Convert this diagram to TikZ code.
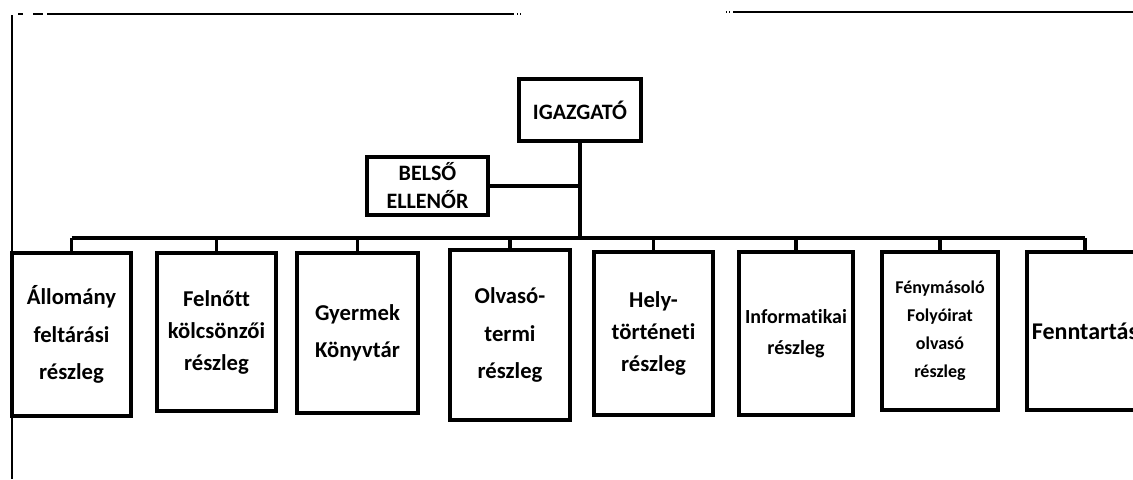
\documentclass[tikz,border=0pt]{standalone}
\usepackage{fontspec}
\setmainfont{Carlito}[Ligatures=NoCommon]

\begin{document}
\begin{tikzpicture}[x=0.75pt,y=-0.75pt]
\tikzstyle{every node}+=[inner sep=0pt]
\tikzstyle{unit}=[draw=black, line width=3.3pt, align=center]
\tikzstyle{link}=[black, line width=2.7pt]
\tikzstyle{frame}=[black, line width=1.5pt]
\clip (0,0) rectangle (1133,479);
\fill [white] (0,0) rectangle (1133,479);
% frame lines of the page
\draw [frame] (12,15) -- (12,479);
\draw [frame] (18,14) -- (23,14);
\draw [frame] (33,14) -- (43,14);
\draw [frame] (47,14) -- (514,14);
\draw [frame] (517,14) -- (518,14);
\draw [frame] (520,14) -- (521,14);
\draw [frame] (726,12) -- (727,12);
\draw [frame] (729,12) -- (730,12);
\draw [frame] (733,12) -- (1133,12);
% top
\node [unit, minimum width=91.5pt, minimum height=46.5pt, font=\fontsize{16.5}{20}\selectfont\bfseries] (igazgato) at (580,110) {IGAZGATÓ};
\node [unit, minimum width=90.75pt, minimum height=43.5pt, font=\fontsize{16.5}{21}\selectfont\bfseries] (ellenor) at (427.5,186) {BELSŐ\\ELLENŐR};
\coordinate (bus) at (580,238);
% units
\node [unit, minimum width=89.25pt, minimum height=122.25pt, font=\fontsize{17}{28}\selectfont\bfseries] (allomany) at (71.5,334.5) {Állomány\\feltárási\\részleg};
\node [unit, minimum width=89.25pt, minimum height=118.5pt, font=\fontsize{17}{24}\selectfont\bfseries] (felnott) at (216.5,332) {Felnőtt\\kölcsönzői\\részleg};
\node [unit, minimum width=90.75pt, minimum height=120pt, font=\fontsize{17}{28}\selectfont\bfseries] (gyermek) at (357.5,333) {Gyermek\\Könyvtár};
\node [unit, minimum width=90pt, minimum height=127.5pt, font=\fontsize{17}{28}\selectfont\bfseries] (olvaso) at (510,335) {Olvasó-\\termi\\részleg};
\node [unit, minimum width=89.25pt, minimum height=122.25pt, font=\fontsize{17}{24}\selectfont\bfseries] (hely) at (653.5,333.5) {Hely-\\történeti\\részleg};
\node [unit, minimum width=85.5pt, minimum height=122.25pt, font=\fontsize{15}{23}\selectfont\bfseries] (info) at (796,333.5) {Informatikai\\részleg};
\node [unit, minimum width=87pt, minimum height=118.5pt, font=\fontsize{13.5}{21}\selectfont\bfseries] (fenymasolo) at (940,331) {Fénymásoló\\Folyóirat\\olvasó\\részleg};
\node [unit, minimum width=87pt, minimum height=118.5pt, font=\fontsize{18}{24}\selectfont\bfseries] (fenntartas) at (1085,331) {Fenntartás};
% connectors
\draw [link] (igazgato.south) -- (bus);
\draw [link] (ellenor.east) -- (ellenor.east -| bus);
\draw [link] (allomany.north |- bus) -- (fenntartas.north |- bus);
\draw [link] (allomany.north) -- (allomany.north |- bus);
\draw [link] (felnott.north) -- (felnott.north |- bus);
\draw [link] (gyermek.north) -- (gyermek.north |- bus);
\draw [link] (olvaso.north) -- (olvaso.north |- bus);
\draw [link] (hely.north) -- (hely.north |- bus);
\draw [link] (info.north) -- (info.north |- bus);
\draw [link] (fenymasolo.north) -- (fenymasolo.north |- bus);
\draw [link] (fenntartas.north) -- (fenntartas.north |- bus);
\end{tikzpicture}
\end{document}
